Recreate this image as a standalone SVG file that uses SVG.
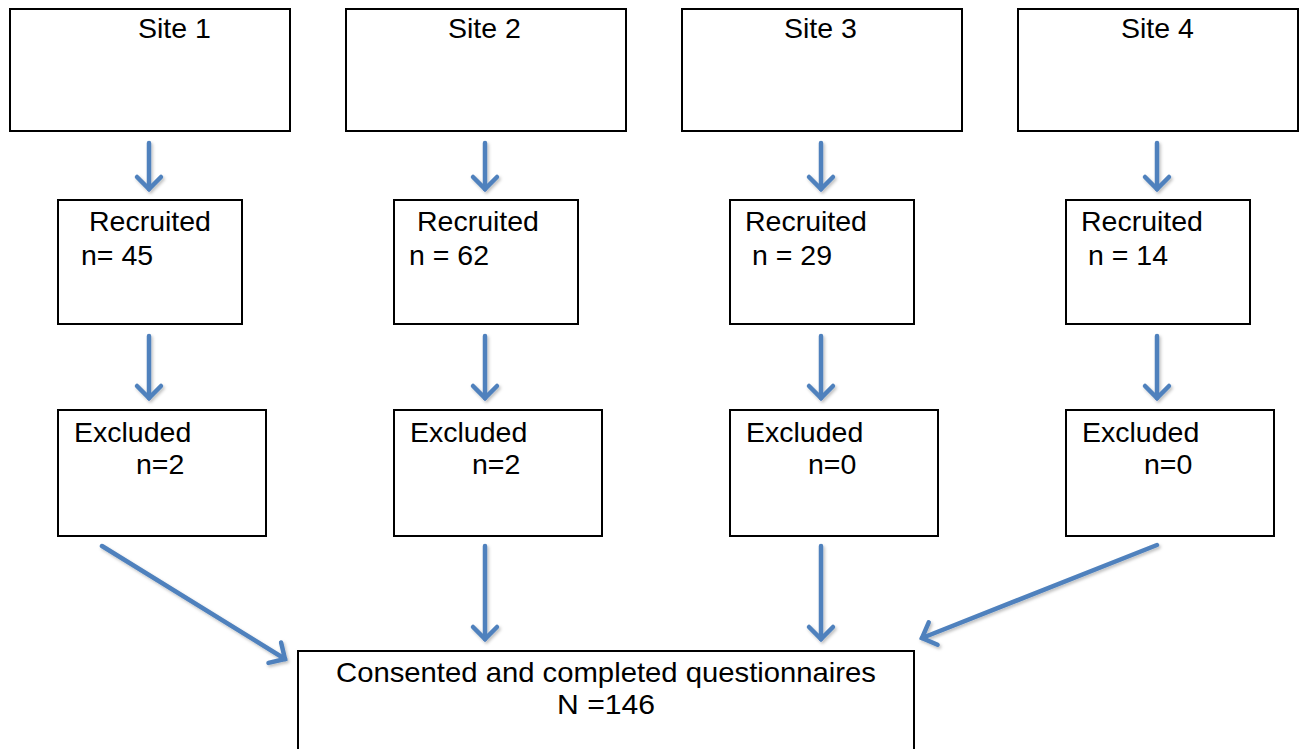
<svg xmlns="http://www.w3.org/2000/svg" width="1303" height="749" viewBox="0 0 1303 749">
<style>
.box{fill:#fff;stroke:#000;stroke-width:2}
text{font-family:"Liberation Sans",Arial,sans-serif;font-size:28.5px;fill:#000}
.big{font-size:28px}
.arr{stroke:#4f81bd;stroke-width:4.5;fill:none;stroke-linecap:round;marker-end:url(#ah)}
</style>
<defs>
<marker id="ah" markerUnits="userSpaceOnUse" markerWidth="40" markerHeight="40" viewBox="-20 -20 40 40" refX="0" refY="0" orient="auto">
<path d="M-12,-12 L0,0 L-12,12" fill="none" stroke="#4f81bd" stroke-width="4.5" stroke-linecap="round" stroke-linejoin="miter"/>
</marker>
<filter id="sh" x="-20%" y="-20%" width="140%" height="140%">
<feDropShadow dx="1.5" dy="2" stdDeviation="1.5" flood-color="#000" flood-opacity="0.25"/>
</filter>
</defs>
<g id="site1"><rect class="box" x="10" y="9" width="280" height="122"/><text x="138" y="38">Site 1</text></g>
<g id="site2"><rect class="box" x="346" y="9" width="280" height="122"/><text x="448" y="38">Site 2</text></g>
<g id="site3"><rect class="box" x="682" y="9" width="280" height="122"/><text x="784" y="38">Site 3</text></g>
<g id="site4"><rect class="box" x="1018" y="9" width="280" height="122"/><text x="1121" y="38">Site 4</text></g>
<g id="rec1"><rect class="box" x="58" y="200" width="184" height="124"/><text x="89" y="231">Recruited</text><text x="81" y="265">n= 45</text></g>
<g id="rec2"><rect class="box" x="394" y="200" width="184" height="124"/><text x="417" y="231">Recruited</text><text x="409" y="265">n = 62</text></g>
<g id="rec3"><rect class="box" x="730" y="200" width="184" height="124"/><text x="745" y="231">Recruited</text><text x="752" y="265">n = 29</text></g>
<g id="rec4"><rect class="box" x="1066" y="200" width="184" height="124"/><text x="1081" y="231">Recruited</text><text x="1088" y="265">n = 14</text></g>
<g id="exc1"><rect class="box" x="58" y="410" width="208" height="126"/><text x="74" y="442">Excluded</text><text x="136" y="474">n=2</text></g>
<g id="exc2"><rect class="box" x="394" y="410" width="208" height="126"/><text x="410" y="442">Excluded</text><text x="472" y="474">n=2</text></g>
<g id="exc3"><rect class="box" x="730" y="410" width="208" height="126"/><text x="746" y="442">Excluded</text><text x="808" y="474">n=0</text></g>
<g id="exc4"><rect class="box" x="1066" y="410" width="208" height="126"/><text x="1082" y="442">Excluded</text><text x="1144" y="474">n=0</text></g>
<g id="total"><rect class="box" x="298" y="651" width="616" height="110"/><text class="big" x="336" y="682" textLength="540" lengthAdjust="spacingAndGlyphs">Consented and completed questionnaires</text><text class="big" x="557" y="714" textLength="98" lengthAdjust="spacingAndGlyphs">N =146</text></g>
<g id="connectors" filter="url(#sh)">
<line class="arr" x1="149" y1="143" x2="149" y2="189"/>
<line class="arr" x1="485" y1="143" x2="485" y2="189"/>
<line class="arr" x1="821" y1="143" x2="821" y2="189"/>
<line class="arr" x1="1157" y1="143" x2="1157" y2="189"/>
<line class="arr" x1="149" y1="336" x2="149" y2="398"/>
<line class="arr" x1="485" y1="336" x2="485" y2="398"/>
<line class="arr" x1="821" y1="336" x2="821" y2="398"/>
<line class="arr" x1="1157" y1="336" x2="1157" y2="398"/>
<line class="arr" x1="102" y1="546" x2="285" y2="659"/>
<line class="arr" x1="485" y1="546" x2="485" y2="639"/>
<line class="arr" x1="821" y1="546" x2="821" y2="639"/>
<line class="arr" x1="1157" y1="545" x2="922" y2="638"/>
</g>
</svg>
